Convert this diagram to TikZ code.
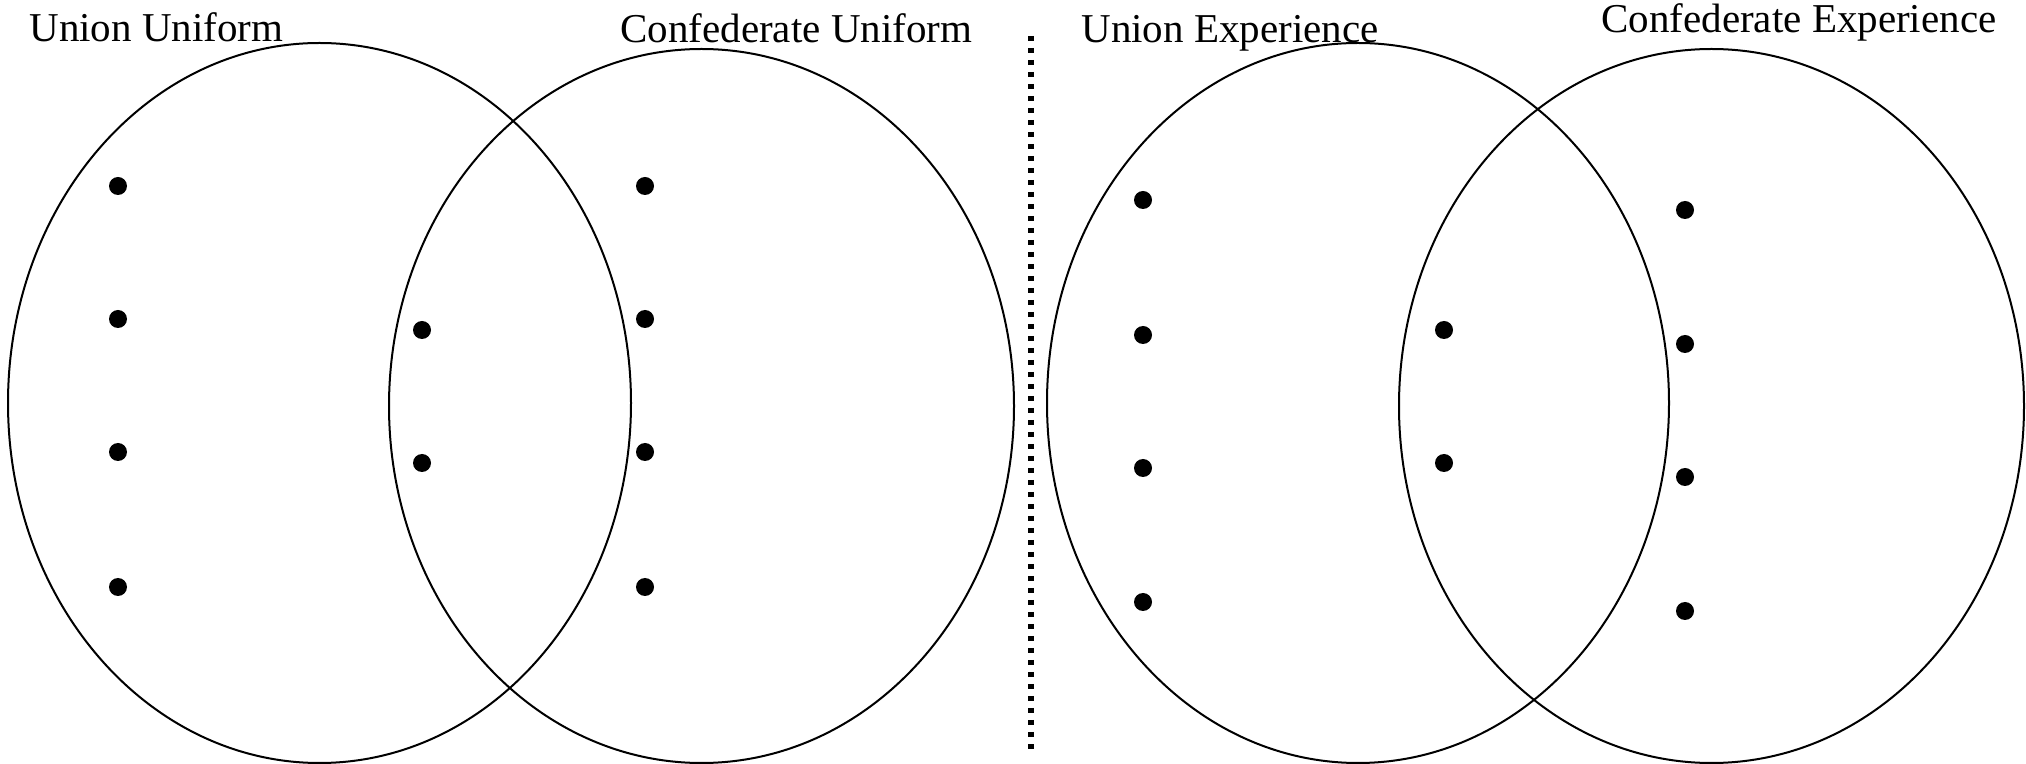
\documentclass[tikz,border=0pt]{standalone}
\usepackage{fontspec}
\setmainfont{Liberation Serif}
\usetikzlibrary{shapes.geometric}

\begin{document}
\begin{tikzpicture}[x=0.5pt, y=-0.5pt,
  venn/.style={ellipse, draw, line width=1pt, inner sep=0pt},
  dot/.style={circle, fill, inner sep=0pt, minimum size=9pt},
  head/.style={anchor=base west, inner sep=0pt, font=\fontsize{20.5}{24}\selectfont}]
  \useasboundingbox (0,0) rectangle (2026,764);

  % titles
  \node[head] (tUU) at (29,42) {Union Uniform};
  \node[head] (tCU) at (620,43) {Confederate Uniform};
  \node[head] (tUE) at (1081,43) {Union Experience};
  \node[head] (tCE) at (1601,33) {Confederate Experience};

  % uniform diagram
  \node[venn, minimum width=311.5pt, minimum height=360pt] (uu) at (319.5,403) {};
  \node[venn, minimum width=312.5pt, minimum height=357pt] (cu) at (701.5,406) {};

  % experience diagram
  \node[venn, minimum width=311pt, minimum height=360pt] (ue) at (1358,403) {};
  \node[venn, minimum width=312.5pt, minimum height=357pt] (ce) at (1711.5,406) {};

  % divider
  \coordinate (divTop) at (1031,36);
  \coordinate (divBot) at (1031,749);
  \draw[line width=2.7pt, dash pattern=on 2.5pt off 3.5pt] (divTop) -- (divBot);

  % bullet points
  \foreach \y [count=\i] in {186,319,452,587} {
    \node[dot] (uu\i) at (118,\y) {};
    \node[dot] (cu\i) at (645,\y) {};
  }
  \foreach \y [count=\i] in {330,463} {
    \node[dot] (bu\i) at (422,\y) {};
    \node[dot] (be\i) at (1444,\y) {};
  }
  \foreach \y [count=\i] in {200,335,468,602} {
    \node[dot] (ue\i) at (1143,\y) {};
  }
  \foreach \y [count=\i] in {210,344,477,611} {
    \node[dot] (ce\i) at (1685,\y) {};
  }
\end{tikzpicture}
\end{document}
